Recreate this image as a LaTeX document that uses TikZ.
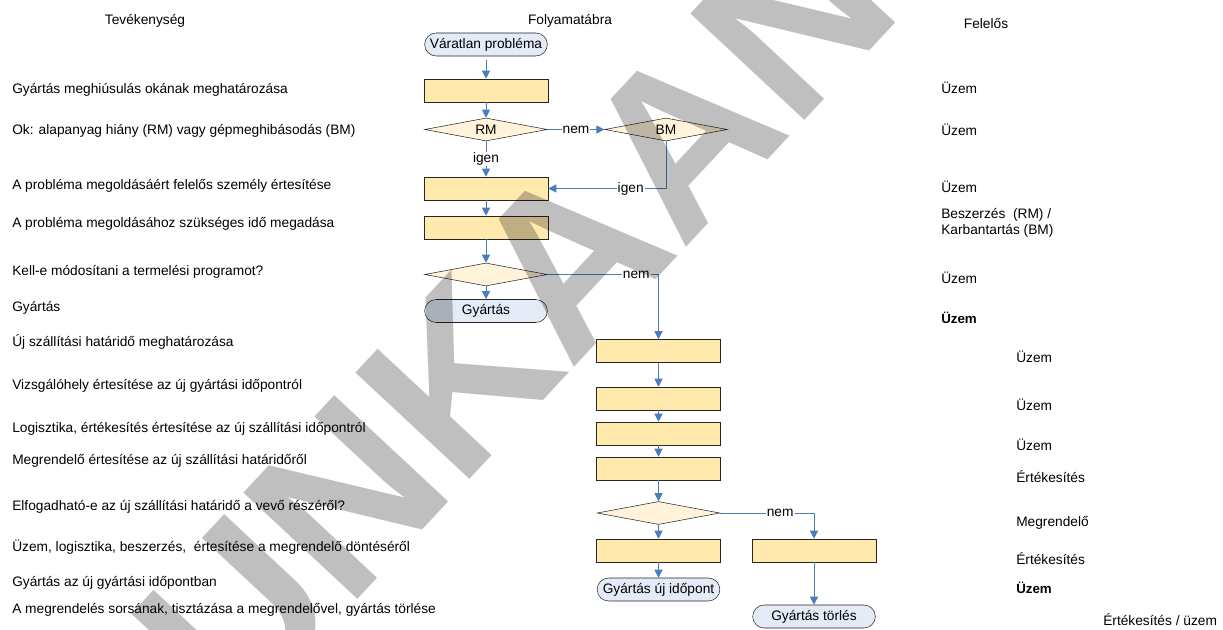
\documentclass[tikz,border=0pt]{standalone}
\usepackage{fontspec}
\setmainfont{Liberation Sans}
\usetikzlibrary{shapes.geometric,arrows.meta}

\definecolor{boxfill}{HTML}{FFE9AD}
\definecolor{decfill}{HTML}{FFF4D9}
\definecolor{termfill}{HTML}{E4EBF7}
\definecolor{flowblue}{HTML}{4A7EBB}

\tikzset{
  proc/.style={draw=black!85, fill=boxfill, minimum width=93pt, minimum height=17.25pt, inner sep=0pt},
  dec/.style={diamond, draw=black!85, fill=decfill, aspect=5.3, minimum width=92pt, minimum height=17.25pt, inner sep=0pt},
  term/.style={draw=black!85, fill=termfill, rounded corners=8.6pt, minimum width=92pt, minimum height=17.25pt, inner sep=0pt},
  flow/.style={draw=flowblue, line width=0.75pt, -{Triangle[length=6pt,width=6pt]}},
  lab/.style={fill=white, inner sep=0.8pt},
  txt/.style={anchor=west, inner sep=0pt},
}

\begin{document}
\begin{tikzpicture}[x=0.75pt, y=-0.75pt, font=\fontsize{10.3pt}{12pt}\selectfont]
    \useasboundingbox (0,0) rectangle (1223,630);

    % column heads
    \node (hact) at (145,21) {Tevékenység};
    \node (hflow) at (570,21) {Folyamatábra};
    \node (hresp) at (986,24) {Felelős};

    % activities
    \node[txt] (t1) at (12,90) {Gyártás meghiúsulás okának meghatározása};
    \node[txt] (t2) at (12,131) {Ok: alapanyag hiány (RM) vagy gépmeghibásodás (BM)};
    \node[txt] (t3) at (12,186) {A probléma megoldásáért felelős személy értesítése};
    \node[txt] (t4) at (12,224) {A probléma megoldásához szükséges idő megadása};
    \node[txt] (t5) at (12,272) {Kell-e módosítani a termelési programot?};
    \node[txt] (t6) at (12,308) {Gyártás};
    \node[txt] (t7) at (12,342) {Új szállítási határidő meghatározása};
    \node[txt] (t8) at (12,386) {Vizsgálóhely értesítése az új gyártási időpontról};
    \node[txt] (t9) at (12,429) {Logisztika, értékesítés értesítése az új szállítási időpontról};
    \node[txt] (t10) at (12,461) {Megrendelő értesítése az új szállítási határidőről};
    \node[txt] (t11) at (12,507) {Elfogadható-e az új szállítási határidő a vevő részéről?};
    \node[txt] (t12) at (12,547) {Üzem, logisztika, beszerzés,~ értesítése a megrendelő döntéséről};
    \node[txt] (t13) at (12,583) {Gyártás az új gyártási időpontban};
    \node[txt] (t14) at (12,610) {A megrendelés sorsának, tisztázása a megrendelővel, gyártás törlése};

    % responsible
    \node[txt] (r1) at (941,88) {Üzem};
    \node[txt] (r2) at (941,130) {Üzem};
    \node[txt] (r3) at (941,187) {Üzem};
    \node[txt, align=left] (r4) at (941,223) {Beszerzés~ (RM) /\\Karbantartás (BM)};
    \node[txt] (r5) at (941,278) {Üzem};
    \node[txt, font=\bfseries] (r6) at (941,318) {Üzem};
    \node[txt] (r7) at (1016,357) {Üzem};
    \node[txt] (r8) at (1016,405) {Üzem};
    \node[txt] (r9) at (1016,445) {Üzem};
    \node[txt] (r10) at (1016,477) {Értékesítés};
    \node[txt] (r11) at (1016,523) {Megrendelő};
    \node[txt] (r12) at (1016,559) {Értékesítés};
    \node[txt, font=\bfseries] (r13) at (1016,588) {Üzem};
    \node[txt] (r14) at (1103,620) {Értékesítés / üzem};

    % flowchart
    \node[term] (start) at (486,44.5) {Váratlan probléma};
    \node[proc] (p1) at (486,90.5) {};
    \node[dec] (rm) at (486,129.5) {RM};
    \node[dec] (bm) at (666,129.5) {BM};
    \node[proc] (p2) at (486,188.5) {};
    \node[proc] (p3) at (486,227.5) {};
    \node[dec] (chg) at (486,274.5) {};
    \node[term] (prod) at (486,311) {Gyártás};
    \node[proc] (p4) at (658.5,351) {};
    \node[proc] (p5) at (658.5,398.5) {};
    \node[proc] (p6) at (658.5,433.5) {};
    \node[proc] (p7) at (658.5,468.5) {};
    \node[dec] (acc) at (658.5,513) {};
    \node[proc] (p8) at (658.5,550.5) {};
    \node[proc] (p9) at (814,550.5) {};
    \node[term] (newdate) at (658.5,589.5) {Gyártás új időpont};
    \node[term] (cancel) at (814,616.5) {Gyártás törlés};

    \draw[flow, shorten <=3pt] (start) -- (p1);
    \draw[flow] (p1) -- (rm);
    \draw[flow] (rm) -- node[lab] {igen} (p2);
    \draw[flow] (rm.east) -- node[lab] {nem} (bm.west);
    \draw[flow] (bm.south) |- node[lab, pos=0.65] {igen} (p2.east);
    \draw[flow] (p2) -- (p3);
    \draw[flow] (p3) -- (chg);
    \draw[flow] (chg) -- (prod);
    \draw[flow] (chg.east) -| node[lab, pos=0.4] {nem} (p4.north);
    \draw[flow] (p4) -- (p5);
    \draw[flow] (p5) -- (p6);
    \draw[flow] (p6) -- (p7);
    \draw[flow] (p7) -- (acc);
    \draw[flow] (acc) -- (p8);
    \draw[flow] (p8) -- (newdate);
    \draw[flow] (acc.east) -| node[lab, pos=0.32] {nem} (p9.north);
    \draw[flow] (p9) -- (cancel);

    % watermark
    \begin{scope}
      \clip (0,0) rectangle (1223,630);
      \node[rotate=47, text=black, text opacity=0.25, inner sep=0pt,
            font=\fontsize{170pt}{170pt}\selectfont\bfseries] (wmark) at (610,215) {MUNKAANYAG};
    \end{scope}
\end{tikzpicture}
\end{document}
